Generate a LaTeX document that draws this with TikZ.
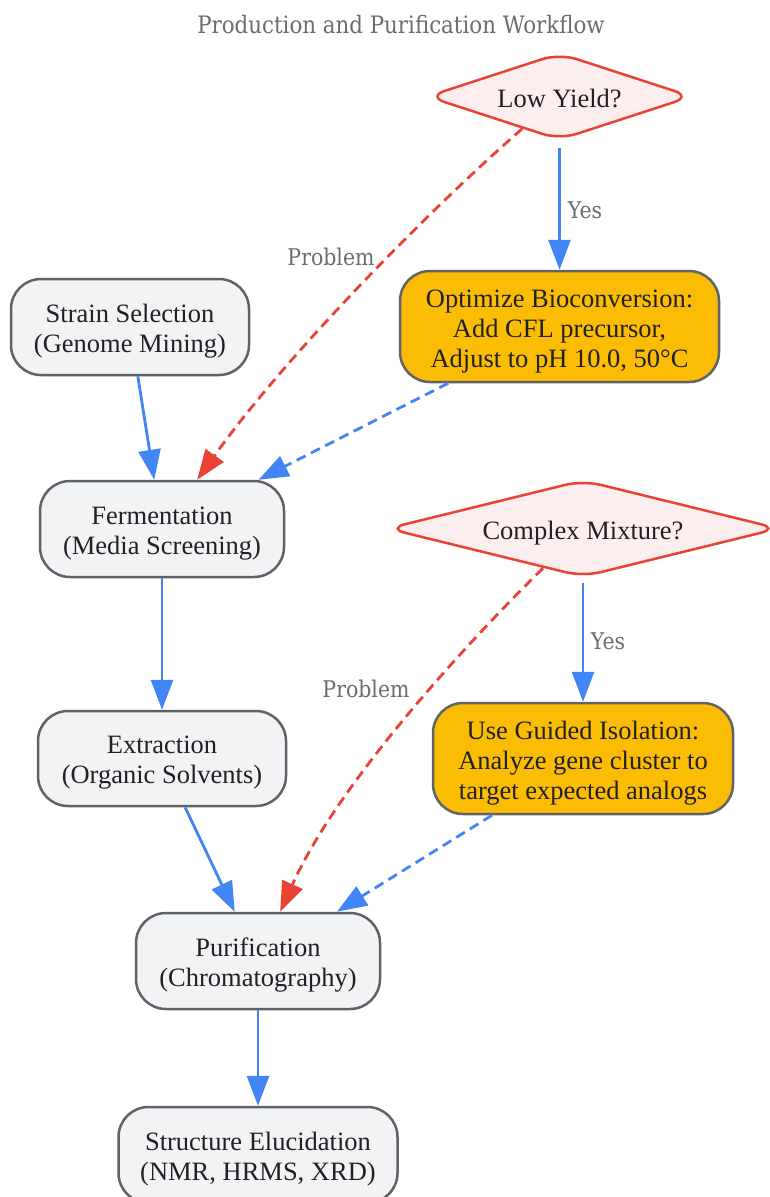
\documentclass[tikz,border=0pt]{standalone}
\usepackage{fontspec}
\setmainfont{Liberation Serif}
\newfontfamily\labelfont[FakeStretch=0.89]{DejaVu Serif}
\usetikzlibrary{arrows.meta,shapes.geometric}
\definecolor{eblue}{HTML}{4285F4}
\definecolor{ered}{HTML}{EA4335}
\definecolor{nfill}{HTML}{F1F3F4}
\definecolor{nborder}{HTML}{5F6368}
\definecolor{dfill}{HTML}{FCEEEE}
\definecolor{afill}{HTML}{FBBC04}
\definecolor{txt}{HTML}{202124}
\definecolor{lbl}{HTML}{696C70}
\tikzset{
  procbox/.style={draw=nborder, fill=nfill, line width=2.5pt, rounded corners=30pt,
    align=center, font=\fontsize{26.5}{30}\selectfont, text=txt, inner sep=0pt},
  twolines/.style={text height=56pt},
  threelines/.style={text height=88pt},
  fixbox/.style={procbox, fill=afill},
  decision/.style={diamond, draw=ered, fill=dfill, line width=2.5pt, rounded corners=18pt,
    inner sep=0pt, aspect=3, font=\fontsize{26.5}{30}\selectfont, text=txt,
    text height=26pt, text depth=4pt},
  flow/.style={draw=eblue, line width=2.8pt, -{Triangle[length=30pt,width=22pt]}},
  altflow/.style={flow, dash pattern=on 10pt off 6pt},
  problem/.style={draw=ered, color=ered, line width=2.8pt, dash pattern=on 10pt off 6pt,
    -{Triangle[length=30pt,width=22pt]}},
  edgelabel/.style={font=\labelfont\fontsize{23}{26}\selectfont, text=lbl, inner sep=0pt}
}
\begin{document}
\begin{tikzpicture}[x=1pt,y=-1pt]
\useasboundingbox (0,0) rectangle (770,1197);
\fill[white] (0,0) rectangle (770,1197);

\node[font=\labelfont\fontsize{24}{28}\selectfont, text=lbl] (title) at (401,25) {Production and Purification Workflow};

\node[decision, minimum width=265pt, minimum height=87pt] (low) at (559.5,96.5) {Low Yield?};
\node[procbox, twolines, minimum width=238pt, minimum height=96pt] (strain) at (130,327) {Strain Selection\\(Genome Mining)};
\node[fixbox, threelines, minimum width=319pt, minimum height=111pt] (opt) at (559.5,326.5) {Optimize Bioconversion:\\Add CFL precursor,\\Adjust to pH 10.0, 50\textdegree C};
\node[procbox, twolines, minimum width=244pt, minimum height=96pt] (ferm) at (162,529) {Fermentation\\(Media Screening)};
\node[decision, minimum width=392pt, minimum height=90pt] (cm) at (583,528.5) {Complex Mixture?};
\node[procbox, twolines, minimum width=248pt, minimum height=95pt] (extr) at (162,758.5) {Extraction\\(Organic Solvents)};
\node[fixbox, threelines, minimum width=300pt, minimum height=111pt] (guided) at (583,758.5) {Use Guided Isolation:\\Analyze gene cluster to\\target expected analogs};
\node[procbox, twolines, minimum width=244pt, minimum height=96pt] (puri) at (258,961) {Purification\\(Chromatography)};
\node[procbox, twolines, minimum width=279pt, minimum height=96pt] (struct) at (258,1155) {Structure Elucidation\\(NMR, HRMS, XRD)};

\draw[flow, shorten <=7pt] (low) -- (opt);
\node[edgelabel] (yes1) at (585,210) {Yes};
\draw[problem] (low) .. controls (440,200) and (290,350) .. (ferm);
\node[edgelabel] (prob1) at (331,257) {Problem};
\draw[altflow] (opt) -- (ferm);
\draw[flow] (strain) -- (ferm);
\draw[flow] (ferm) -- (extr);
\draw[flow, shorten <=5pt] (cm) -- (guided);
\node[edgelabel] (yes2) at (608,641) {Yes};
\draw[problem] (cm) .. controls (450,660) and (335,790) .. (puri);
\node[edgelabel] (prob2) at (366,689) {Problem};
\draw[altflow] (guided) -- (puri);
\draw[flow] (extr) -- (puri);
\draw[flow] (puri) -- (struct);
\end{tikzpicture}
\end{document}
